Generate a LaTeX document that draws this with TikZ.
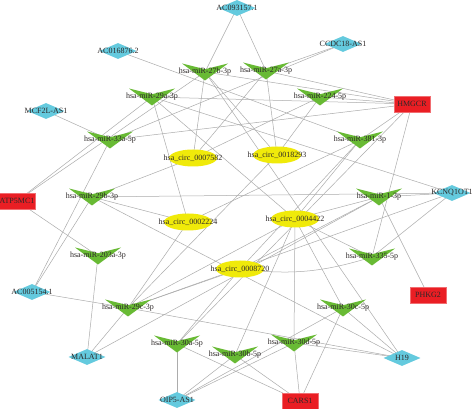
\documentclass[tikz,border=0pt]{standalone}
\usepackage{fontspec}
\setmainfont{Liberation Serif}
\usetikzlibrary{shapes.geometric,backgrounds}
\definecolor{vgreen}{RGB}{104,186,52}
\definecolor{lcyan}{RGB}{100,202,222}
\definecolor{cyellow}{RGB}{240,234,10}
\definecolor{gred}{RGB}{234,30,36}
\definecolor{ecol}{RGB}{172,172,172}
\definecolor{txtc}{RGB}{45,40,40}
\begin{document}
\begin{tikzpicture}[x=1pt,y=1pt,
  lbl/.style={font=\fontsize{8}{9}\selectfont, text=txtc, inner sep=0},
  mir/.style={rectangle, minimum width=46pt, minimum height=17pt, inner sep=0,
    path picture={\fill[vgreen] (path picture bounding box.north west) -- ([yshift=-5.7pt]path picture bounding box.north) -- (path picture bounding box.north east) -- (path picture bounding box.south) -- cycle;}},
  circ/.style={ellipse, fill=cyellow, minimum width=48pt, minimum height=17pt, inner sep=0},
  lnc/.style={diamond, fill=lcyan, minimum width=37pt, minimum height=16pt, inner sep=0},
  gene/.style={rectangle, fill=gred, draw=gred!65!white, line width=0.6pt, minimum width=36pt, minimum height=16pt, inner sep=0},
  edge/.style={draw=ecol, line width=0.5pt}
]
\useasboundingbox (0,0) rectangle (474,409);
% lncRNAs
\node[lnc, label={[lbl]center:AC093157.1}] (L1) at (237,401) {};
\node[lnc, label={[lbl]center:AC016876.2}] (L2) at (118,358) {};
\node[lnc, label={[lbl]center:CCDC18-AS1}] (L3) at (343,365) {};
\node[lnc, label={[lbl]center:MCF2L-AS1}] (L4) at (46,298) {};
\node[lnc, label={[lbl]center:KCNQ1OT1}] (L5) at (452,216) {};
\node[lnc, label={[lbl]center:AC005154.1}] (L6) at (32,117) {};
\node[lnc, label={[lbl]center:MALAT1}] (L7) at (87,52) {};
\node[lnc, label={[lbl]center:OIP5-AS1}] (L8) at (177,9) {};
\node[lnc, label={[lbl]center:H19}] (L9) at (402,51) {};
% mRNAs
\node[gene, label={[lbl]center:HMGCR}] (G1) at (412,305) {};
\node[gene, label={[lbl]center:ATP5MC1}] (G2) at (17,208) {};
\node[gene, label={[lbl]center:PHKG2}] (G3) at (428,114) {};
\node[gene, label={[lbl]center:CARS1}] (G4) at (300,8) {};
% miRNAs
\node[mir, label={[lbl]center:hsa-miR-27b-3p}] (m27b) at (205,337) {};
\node[mir, label={[lbl]center:hsa-miR-27a-3p}] (m27a) at (266,338) {};
\node[mir, label={[lbl]center:hsa-miR-29a-3p}] (m29a) at (152,312) {};
\node[mir, label={[lbl]center:hsa-miR-224-5p}] (m224) at (320,312) {};
\node[mir, label={[lbl]center:hsa-miR-33a-5p}] (m33a) at (110,269) {};
\node[mir, label={[lbl]center:hsa-miR-381-3p}] (m381) at (360,269) {};
\node[mir, label={[lbl]center:hsa-miR-29b-3p}] (m29b) at (92,212) {};
\node[mir, label={[lbl]center:hsa-miR-1-3p}] (m1) at (379,212) {};
\node[mir, label={[lbl]center:hsa-miR-203a-3p}] (m203a) at (98,153) {};
\node[mir, label={[lbl]center:hsa-miR-335-5p}] (m335) at (372,152) {};
\node[mir, label={[lbl]center:hsa-miR-29c-3p}] (m29c) at (128,101) {};
\node[mir, label={[lbl]center:hsa-miR-30c-5p}] (m30c) at (343,101) {};
\node[mir, label={[lbl]center:hsa-miR-30a-5p}] (m30a) at (177,65) {};
\node[mir, label={[lbl]center:hsa-miR-30d-5p}] (m30d) at (294,66) {};
\node[mir, label={[lbl]center:hsa-miR-30b-5p}] (m30b) at (235,54) {};
% circRNAs
\node[circ, label={[lbl]center:hsa\_circ\_0007582}] (c7582) at (193,251) {};
\node[circ, label={[lbl]center:hsa\_circ\_0018293}] (c18293) at (277,254) {};
\node[circ, label={[lbl]center:hsa\_circ\_0002224}] (c2224) at (188,187) {};
\node[circ, label={[lbl]center:hsa\_circ\_0004422}] (c4422) at (295,190) {};
\node[circ, label={[lbl]center:hsa\_circ\_0008720}] (c8720) at (240,140) {};
% edges
\begin{scope}[on background layer]
\fill[white] (0,0) rectangle (474,409);
\foreach \a/\b in {L1/m27b, L1/m27a, L2/m381, L3/m27a, L3/m33a, L4/m33a,
  G2/m27b, G2/m29a, G2/m203a, L6/m29b, L6/m33a, L6/m29c, m29c/L9,
  L7/m203a, L7/m29c, L7/m1, L8/m30a, L8/m30b, L8/m30d, L8/m30c,
  m30a/G4, m30c/G4, m30d/G4, m30b/G4, m30d/L9, m30c/L9, m29b/L9,
  m1/G3, m1/L5, m29b/L5, m29a/L5, m29c/L5, m335/L5, m335/G1, m381/G1,
  m1/c4422, m1/c8720, m335/c4422, m27b/c7582, m27b/G1, m27a/c7582,
  m27a/c18293, m27a/G1, m29a/G1, m29a/c2224, m29a/c4422, m224/G1,
  m224/c18293, m33a/G1, m29b/c7582, m29b/c2224, m29c/c18293, m29c/c4422,
  m29c/c8720, m29c/c2224, m30a/c8720, m30b/c4422, m30d/c4422, m30c/c4422,
  m27b/L9, m381/c2224, m381/c4422, m381/c8720, G1/m30a, m27b/c18293,
  m224/c7582}
  \draw[edge] (\a.center) -- (\b.center);
\draw[edge] (c8720.center) to[bend right=12] (m335.center);
\end{scope}
\end{tikzpicture}
\end{document}
